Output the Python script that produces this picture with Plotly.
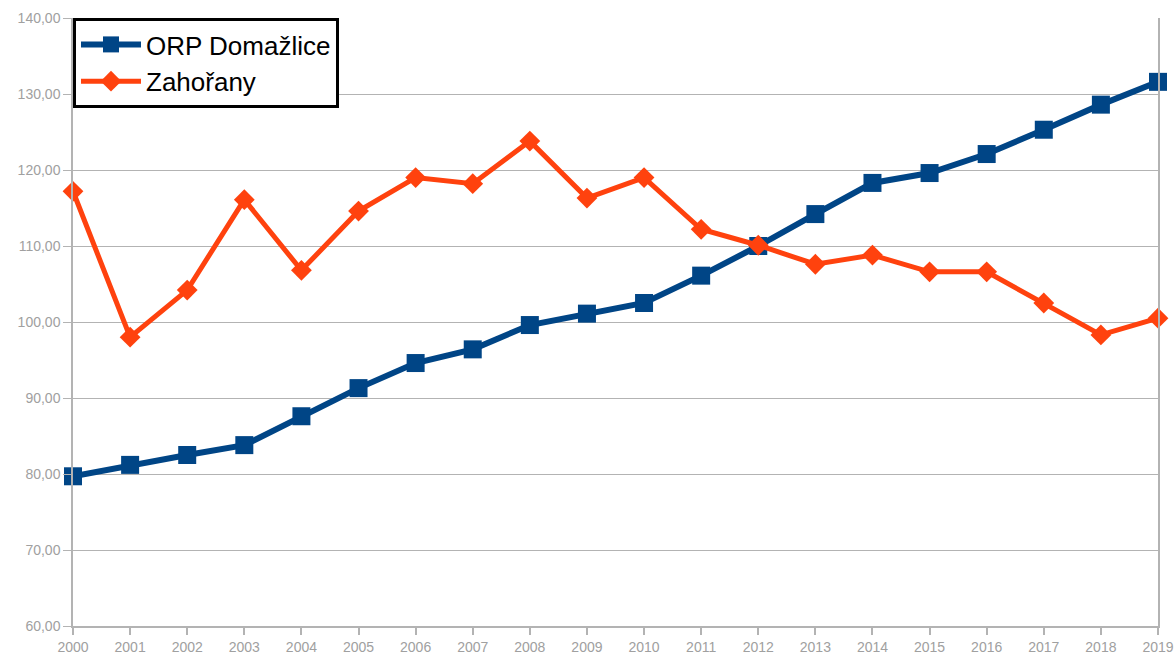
import plotly.graph_objects as go

years = [str(y) for y in range(2000, 2020)]
domazlice = [79.7, 81.2, 82.5, 83.8, 87.6, 91.3, 94.6, 96.4, 99.6, 101.1,
             102.5, 106.1, 110.0, 114.2, 118.3, 119.6, 122.1, 125.3, 128.6, 131.6]
zahorany = [117.2, 98.0, 104.2, 116.1, 106.8, 114.6, 119.0, 118.2, 123.8, 116.3,
            119.0, 112.2, 110.1, 107.6, 108.8, 106.6, 106.6, 102.5, 98.3, 100.5]
series_names = ["ORP Domažlice", "Zahořany"]

fig = go.Figure()
fig.add_trace(go.Scatter(
    x=years, y=domazlice, name=series_names[0], mode="lines+markers",
    line=dict(color="#004586", width=6),
    marker=dict(symbol="square", size=18, color="#004586"),
    cliponaxis=False,
))
fig.add_trace(go.Scatter(
    x=years, y=zahorany, name=series_names[1], mode="lines+markers",
    line=dict(color="#ff420e", width=5),
    marker=dict(symbol="diamond", size=16, color="#ff420e"),
    cliponaxis=False,
))

grey = "#b3b3b3"
fig.update_layout(
    width=1175, height=662,
    margin=dict(l=73, r=17, t=18, b=36, autoexpand=False),
    paper_bgcolor="white", plot_bgcolor="white",
    separators=", ",
    font=dict(family="Liberation Sans, Arial, sans-serif", color="#a0a0a0", size=14),
    showlegend=True,
    legend=dict(
        x=0, y=1, xanchor="left", yanchor="top",
        bgcolor="white", bordercolor="black", borderwidth=3,
        font=dict(size=26, color="black"),
        itemwidth=60, tracegroupgap=0,
    ),
    xaxis=dict(
        type="category", range=[0, 19], automargin=False,
        showgrid=False, showline=True, linecolor=grey, linewidth=1.5,
        ticks="outside", ticklen=7, tickcolor=grey, tickwidth=1.5,
        zeroline=False,
    ),
    yaxis=dict(
        range=[60, 140], dtick=10, tickformat=".2f", automargin=False,
        showgrid=True, gridcolor=grey, gridwidth=1,
        showline=True, linecolor=grey, linewidth=1.5, mirror=True,
        ticks="outside", ticklen=8, tickcolor=grey,
        zeroline=False,
    ),
)

fig.write_html(
    "out.html",
    config={"displayModeBar": False},
    post_script="document.body.style.margin='0';document.body.style.overflow='hidden';",
)
